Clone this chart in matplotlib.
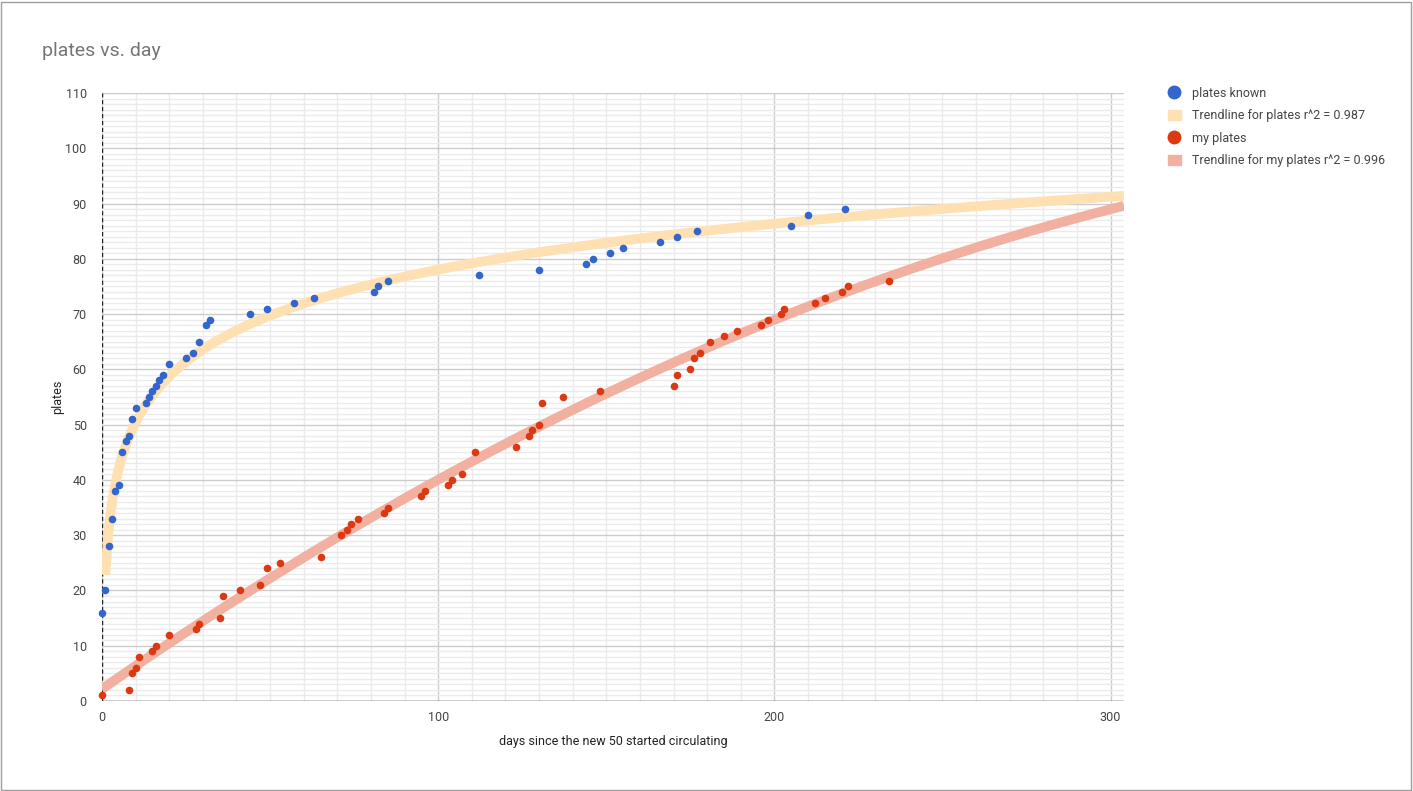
import numpy as np
import matplotlib.pyplot as plt
from matplotlib.lines import Line2D
from matplotlib.patches import Patch, Rectangle

plt.rcParams['font.family'] = ['Roboto', 'DejaVu Sans']

# plates known (blue)
known_day = [0, 1, 2, 3, 4, 5, 6, 7, 8, 9, 10, 13, 14, 15, 16, 17, 18, 20, 25, 27, 29,
             31, 32, 44, 49, 57, 63, 81, 82, 85, 112, 130, 144, 146, 151, 155, 166, 171,
             177, 205, 210, 221]
known_plates = [16, 20, 28, 33, 38, 39, 45, 47, 48, 51, 53, 54, 55, 56, 57, 58, 59, 61, 62,
                63, 65, 68, 69, 70, 71, 72, 73, 74, 75, 76, 77, 78, 79, 80, 81, 82, 83, 84,
                85, 86, 88, 89]

# my plates (red)
my_day = [0, 8, 9, 10, 11, 15, 16, 20, 28, 29, 35, 36, 41, 47, 49, 53, 65, 71, 73, 74, 76,
          84, 85, 95, 96, 103, 104, 107, 111, 123, 127, 128, 130, 131, 137, 148, 170, 171,
          175, 176, 178, 181, 185, 189, 196, 198, 202, 203, 212, 215, 220, 222, 234]
my_plates = [1, 2, 5, 6, 8, 9, 10, 12, 13, 14, 15, 19, 20, 21, 24, 25, 26, 30, 31, 32, 33,
             34, 35, 37, 38, 39, 40, 41, 45, 46, 48, 49, 50, 54, 55, 56, 57, 59, 60, 62, 63,
             65, 66, 67, 68, 69, 70, 71, 72, 73, 74, 75, 76]

blue = '#3366cc'
red = '#dc3912'
yellow_band = '#ffe0b2'
red_band = '#f1b0a0'

fig = plt.figure(figsize=(14.13, 7.91), dpi=100)
fig.patches.append(Rectangle((0.0005, 0.001), 0.998, 0.997, transform=fig.transFigure,
                             fill=False, edgecolor='#9e9e9e', linewidth=1))
ax = fig.add_axes([102 / 1413, 1 - 701 / 791, (1124 - 102) / 1413, (701 - 93) / 791])

# trendlines fitted from the data
kd = np.array(known_day, dtype=float)
kp = np.array(known_plates, dtype=float)
m = kd > 0
a, b = np.polyfit(np.log(kd[m]), kp[m], 1)
xs = np.linspace(1, 304, 400)
ax.plot(xs, a * np.log(xs) + b, color=yellow_band, linewidth=7, solid_capstyle='butt', zorder=2)

coef = np.polyfit(my_day, my_plates, 2)
xs2 = np.linspace(0, 304, 400)
ax.plot(xs2, np.polyval(coef, xs2), color=red_band, linewidth=7, solid_capstyle='butt', zorder=2)

ax.scatter(known_day, known_plates, s=30, color=blue, linewidths=0, zorder=3, clip_on=False)
ax.scatter(my_day, my_plates, s=30, color=red, linewidths=0, zorder=3, clip_on=False)

ax.set_xlim(0, 304)
ax.set_ylim(0, 110)
ax.set_xticks([0, 100, 200, 300])
ax.set_xticks(np.arange(0, 305, 10), minor=True)
ax.set_yticks(np.arange(0, 111, 10))
ax.set_yticks(np.arange(0, 111, 1), minor=True)
ax.grid(which='minor', color='#ebebeb', linewidth=1, zorder=0)
ax.grid(which='major', color='#cccccc', linewidth=1, zorder=0)
ax.set_axisbelow(True)
for s in ax.spines.values():
    s.set_visible(False)
ax.axhline(0, color='#333333', linewidth=1, zorder=1)
ax.axvline(0, color='#222222', linewidth=1, linestyle=(0, (3, 2)), zorder=1)
ax.tick_params(which='both', length=0, labelsize=9, labelcolor='#444444')
ax.tick_params(axis='y', pad=11)
ax.tick_params(axis='x', pad=7)

ax.set_xlabel('days since the new 50 started circulating', fontsize=9, color='#222222', labelpad=8)
ax.set_ylabel('plates', fontsize=9, color='#222222', labelpad=1)

fig.text(42 / 1413, 1 - 51 / 791, 'plates vs. day', fontsize=14, color='#757575', va='center')

handles = [
    Line2D([], [], marker='o', linestyle='none', markersize=9, color=blue),
    Patch(color=yellow_band),
    Line2D([], [], marker='o', linestyle='none', markersize=9, color=red),
    Patch(color=red_band),
]
labels = ['plates known', 'Trendline for plates r^2 = 0.987',
          'my plates', 'Trendline for my plates r^2 = 0.996']
leg = fig.legend(handles, labels, loc='upper left', bbox_to_anchor=(1163 / 1413, 1 - 82 / 791),
                 frameon=False, fontsize=9, labelcolor='#444444', handlelength=1.0,
                 handleheight=0.9, handletextpad=0.9, labelspacing=0.75, borderaxespad=0)

fig.savefig('out.png', dpi=100)
